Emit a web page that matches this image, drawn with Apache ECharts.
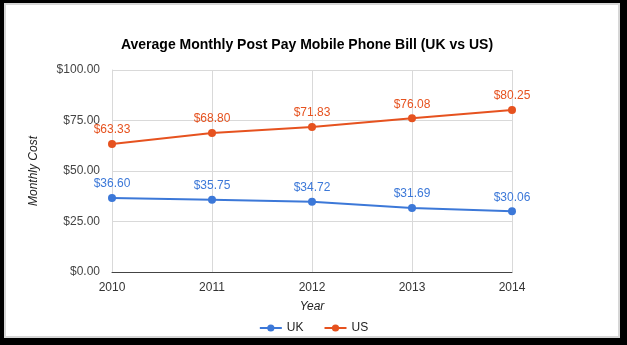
<!DOCTYPE html>
<html>
<head>
<meta charset="utf-8">
<script src="https://cdn.jsdelivr.net/npm/echarts@6/dist/echarts.min.js"></script>
<style>
  html, body { margin: 0; padding: 0; background: #000; width: 627px; height: 345px; overflow: hidden; }
  #frame { position: absolute; left: 4px; top: 3px; width: 616px; height: 335px; box-sizing: border-box; background: #fff; border: 2px solid #d6d6d6; }
  #chart { position: absolute; left: 0; top: 0; width: 627px; height: 345px; }
</style>
</head>
<body>
<div id="frame"></div>
<div id="chart"></div>
<script>
const years = ['2010', '2011', '2012', '2013', '2014'];
const ukValues = [36.60, 35.75, 34.72, 31.69, 30.06];
const usValues = [63.33, 68.80, 71.83, 76.08, 80.25];
const yTicks = [0, 25, 50, 75, 100];

const fmt = v => '$' + Number(v).toFixed(2);
const font = 'Arial, "Liberation Sans", sans-serif';

const chart = echarts.init(document.getElementById('chart'), null, { renderer: 'canvas' });
chart.setOption({
  backgroundColor: 'transparent',
  animation: false,
  title: {
    text: 'Average Monthly Post Pay Mobile Phone Bill (UK vs US)',
    left: 302, top: 33, textAlign: 'center',
    textStyle: { fontFamily: font, fontSize: 14, fontWeight: 'bold', color: '#000' }
  },
  legend: {
    data: ['UK', 'US'],
    left: 'center', top: 317,
    itemWidth: 22, itemHeight: 9, itemGap: 20,
    textStyle: { fontFamily: font, fontSize: 12, color: '#222' }
  },
  grid: { left: 112, right: 115, top: 70, bottom: 73, containLabel: false },
  xAxis: {
    type: 'category', data: years, boundaryGap: false,
    name: 'Year', nameLocation: 'middle', nameGap: 29,
    nameTextStyle: { fontFamily: font, fontSize: 12, fontStyle: 'italic', color: '#222' },
    axisLine: { lineStyle: { color: '#444', width: 1 } },
    axisTick: { show: false },
    axisLabel: { fontFamily: font, fontSize: 12, color: '#333', margin: 10 },
    splitLine: { show: true, lineStyle: { color: '#d9d9d9', width: 1 } }
  },
  yAxis: {
    type: 'value', min: yTicks[0], max: yTicks[yTicks.length - 1], interval: 25,
    name: 'Monthly Cost', nameLocation: 'middle', nameGap: 72,
    nameTextStyle: { fontFamily: font, fontSize: 12, fontStyle: 'italic', color: '#222' },
    axisLine: { show: true, lineStyle: { color: '#d9d9d9' } },
    axisTick: { show: false },
    axisLabel: { fontFamily: font, fontSize: 12, color: '#444', margin: 12, formatter: fmt },
    splitLine: { show: true, lineStyle: { color: '#d9d9d9', width: 1 } }
  },
  series: [
    {
      name: 'UK', type: 'line', data: ukValues,
      color: '#3c78d8',
      symbol: 'circle', symbolSize: 8,
      lineStyle: { width: 2 },
      label: { show: true, position: 'top', distance: 4, formatter: p => fmt(p.value), fontFamily: font, fontSize: 12, color: '#3c78d8' }
    },
    {
      name: 'US', type: 'line', data: usValues,
      color: '#e6521f',
      symbol: 'circle', symbolSize: 8,
      lineStyle: { width: 2 },
      label: { show: true, position: 'top', distance: 4, formatter: p => fmt(p.value), fontFamily: font, fontSize: 12, color: '#e6521f' }
    }
  ]
});
</script>
</body>
</html>
